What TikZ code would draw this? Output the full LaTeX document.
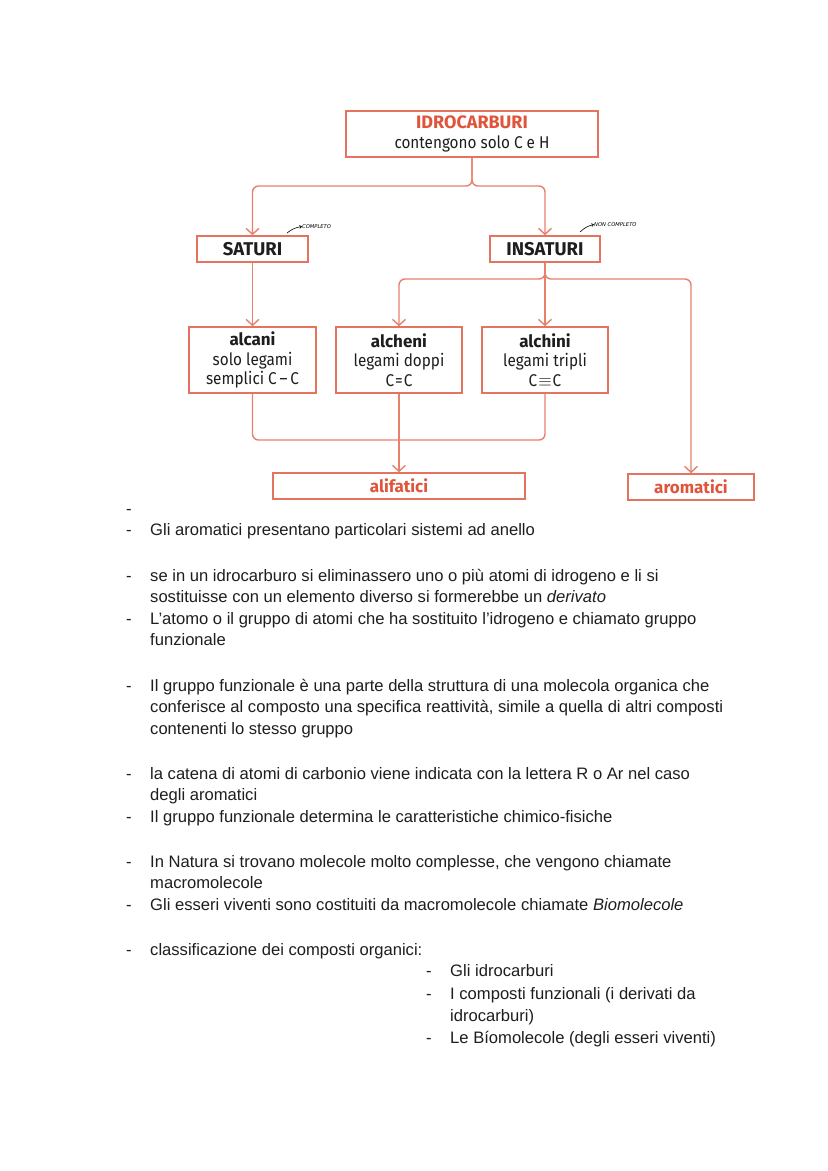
\documentclass[tikz,border=0pt]{standalone}
\usepackage{fontspec}
\setmainfont{Liberation Sans}
\newfontfamily\diagfont[FakeStretch=0.9]{Fira Sans}
\newfontfamily\diagbf{Fira Sans}
\newfontfamily\handfont{DejaVu Sans}
\usetikzlibrary{arrows.meta}
\definecolor{boxc}{HTML}{E4735F}
\definecolor{linec}{HTML}{E8806C}
\definecolor{titc}{HTML}{E0543A}
\definecolor{txtc}{HTML}{1E1E1E}
\newcommand{\bt}[1]{{\diagbf\bfseries #1}}
\tikzset{
  box/.style={draw=boxc, line width=1.5pt, inner sep=0pt, align=center, text=txtc,
    font=\diagfont\fontsize{17}{19.5}\selectfont},
  conn/.style={draw=linec, line width=1.4pt, rounded corners=6pt,
    -{Straight Barb[length=6pt,width=13pt,line width=1.4pt]}},
  plain/.style={draw=linec, line width=1.4pt, rounded corners=6pt},
  body/.style={anchor=base west, inner sep=0pt, text=txtc,
    font=\fontsize{16.6}{18}\selectfont},
  hand/.style={inner sep=0pt, anchor=west, font=\handfont\itshape\fontsize{5.2}{6}\selectfont, text=black},
}
\begin{document}
\begin{tikzpicture}[x=1pt,y=-1pt]
\path[use as bounding box, fill=white] (0,0) rectangle (828,1171);

% boxes
\node[box, minimum width=252pt, minimum height=46pt] (idro) at (472,134)
  {{\fontsize{18}{20}\selectfont\bt{\color{titc}IDROCARBURI}}\\contengono solo C e H};
\node[box, minimum width=111pt, minimum height=26pt] (sat) at (252.5,249) {\fontsize{18.5}{19}\selectfont\bt{SATURI}};
\node[box, minimum width=110pt, minimum height=26pt] (ins) at (545,249) {\fontsize{18.5}{19}\selectfont\bt{INSATURI}};
\node[box, minimum width=127pt, minimum height=66pt] (alca) at (252.5,360)
  {\bt{alcani}\\solo legami\\semplici C\,\textendash\,C};
\node[box, minimum width=126pt, minimum height=66pt] (alke) at (399,360)
  {\bt{alcheni}\\legami doppi\\C\kern1pt=\kern1pt C};
\node[box, minimum width=126pt, minimum height=66pt] (alchi) at (545,360)
  {\bt{alchini}\\legami tripli\\C\kern1pt$\equiv$\kern1pt C};
\node[box, minimum width=252pt, minimum height=26pt, text=titc] (alif) at (399,486) {\fontsize{17}{18}\selectfont\bt{alifatici}};
\node[box, minimum width=126pt, minimum height=26pt, text=titc] (arom) at (691,487) {\fontsize{17}{18}\selectfont\bt{aromatici}};

% junctions
\coordinate (j1) at (472,186);
\coordinate (j2) at (545,279);
\coordinate (j3) at (399,440);

% connectors
\draw[conn] (idro.south) -- (j1) -| (sat.north);
\draw[conn] (idro.south) -- (j1) -| (ins.north);
\draw[conn] (sat.south) -- (alca.north);
\draw[conn] (ins.south) -- (alchi.north);
\draw[conn] (ins.south) -- (j2) -| (alke.north);
\draw[conn] (ins.south) -- (j2) -| (arom.north);
\draw[plain] (alca.south) |- (j3);
\draw[plain] (alchi.south) |- (j3);
\draw[conn] (alke.south) -- (alif.north);

% handwritten notes
\node[hand] (n1) at (302,226.5) {COMPLETO};
\coordinate (a1s) at (287,233);
\draw[black, line width=0.6pt, -{Straight Barb[length=2pt,width=3pt]}] (a1s) to[bend left=15] (n1.west);
\node[hand] (n2) at (594,224.5) {NON COMPLETO};
\coordinate (a2s) at (580,232);
\draw[black, line width=0.6pt, -{Straight Barb[length=2pt,width=3pt]}] (a2s) to[bend left=15] (n2.west);

% body text
\node[body] (d0) at (126,514) {-};
\node[body] (d1) at (126,535) {-};
\node[body] (t1) at (150,535) {Gli aromatici presentano particolari sistemi ad anello};
\node[body] (d2) at (126,581) {-};
\node[body] (t2) at (150,581) {se in un idrocarburo si eliminassero uno o più atomi di idrogeno e li si};
\node[body] (t3) at (150,602) {sostituisse con un elemento diverso si formerebbe un \textit{derivato}};
\node[body] (d3) at (126,624) {-};
\node[body] (t4) at (150,624) {L’atomo o il gruppo di atomi che ha sostituito l’idrogeno e chiamato gruppo};
\node[body] (t5) at (150,645) {funzionale};
\node[body] (d4) at (126,691) {-};
\node[body] (t6) at (150,691) {Il gruppo funzionale è una parte della struttura di una molecola organica che};
\node[body] (t7) at (150,712) {conferisce al composto una specifica reattività, simile a quella di altri composti};
\node[body] (t8) at (150,734) {contenenti lo stesso gruppo};
\node[body] (d5) at (126,779) {-};
\node[body] (t9) at (150,779) {la catena di atomi di carbonio viene indicata con la lettera R o Ar nel caso};
\node[body] (t10) at (150,800) {degli aromatici};
\node[body] (d6) at (126,822) {-};
\node[body] (t11) at (150,822) {Il gruppo funzionale determina le caratteristiche chimico-fisiche};
\node[body] (d7) at (126,867) {-};
\node[body] (t12) at (150,867) {In Natura si trovano molecole molto complesse, che vengono chiamate};
\node[body] (t13) at (150,888) {macromolecole};
\node[body] (d8) at (126,910) {-};
\node[body] (t14) at (150,910) {Gli esseri viventi sono costituiti da macromolecole chiamate \textit{Biomolecole}};
\node[body] (d9) at (126,955) {-};
\node[body] (t15) at (150,955) {classificazione dei composti organici:};
\node[body] (d10) at (426,976) {-};
\node[body] (t16) at (450,976) {Gli idrocarburi};
\node[body] (d11) at (426,999) {-};
\node[body] (t17) at (450,999) {I composti funzionali (i derivati da};
\node[body] (t18) at (450,1021) {idrocarburi)};
\node[body] (d12) at (426,1043) {-};
\node[body] (t19) at (450,1043) {Le Bíomolecole (degli esseri viventi)};
\end{tikzpicture}
\end{document}
